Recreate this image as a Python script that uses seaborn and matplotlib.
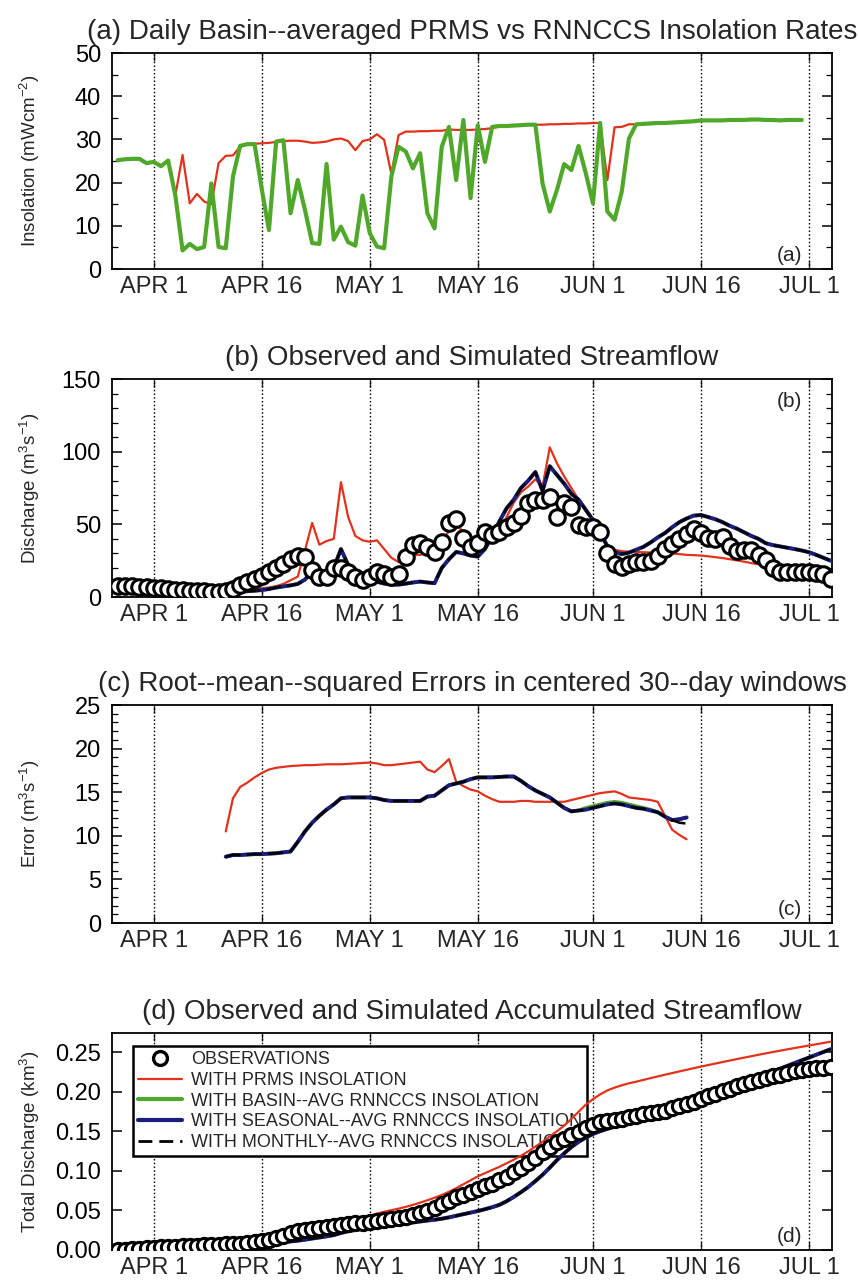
import numpy as np
import pandas as pd
import matplotlib
matplotlib.use("Agg")
import matplotlib.pyplot as plt
import seaborn as sns
from matplotlib.ticker import MultipleLocator, FormatStrFormatter
from matplotlib.lines import Line2D
from matplotlib.legend_handler import HandlerLine2D

# ---------------- data (days counted from APR 1) ----------------
tick_days = [0, 15, 30, 45, 61, 76, 91]
tick_labels = ["APR 1", "APR 16", "MAY 1", "MAY 16", "JUN 1", "JUN 16", "JUL 1"]

days_a = list(range(-5, 91))      # panel (a)
days_b = list(range(-5, 95))      # panels (b) and (d)
days_c = list(range(10, 75))      # panel (c)

# (a) insolation, mW cm-2
insol_basin = [25.2, 25.4, 25.5, 25.5, 24.5, 24.8, 23.8, 25.1, 17.0, 4.3,
               5.8, 4.6, 5.1, 19.8, 5.1, 4.8, 21.4, 28.5, 28.9, 28.9,
               18.5, 9.0, 29.5, 29.8, 12.9, 20.6, 13.7, 6.0, 5.8, 24.3,
               6.8, 9.8, 6.2, 5.4, 17.0, 8.3, 5.2, 4.8, 21.4, 28.3,
               27.2, 23.3, 26.8, 12.9, 9.4, 28.3, 32.9, 20.6, 34.5, 16.4,
               33.3, 24.8, 32.9, 33.1, 33.1, 33.2, 33.3, 33.4, 33.4, 19.8,
               13.3, 18.3, 24.3, 22.9, 28.5, 22.2, 15.2, 33.8, 13.3, 11.4,
               17.9, 30.2, 33.5, 33.6, 33.7, 33.8, 33.8, 33.9, 34.0, 34.1,
               34.2, 34.4, 34.4, 34.4, 34.4, 34.5, 34.5, 34.5, 34.6, 34.6,
               34.5, 34.5, 34.4, 34.5, 34.5, 34.5]
insol_prms = [25.2, 25.4, 25.5, 25.5, 24.5, 24.8, 23.8, 25.1, 17.0, 26.4,
              15.2, 17.4, 15.6, 15.0, 24.5, 26.2, 26.3, 28.3, 28.9, 29.0,
              29.1, 29.2, 29.4, 29.6, 29.7, 29.7, 29.5, 29.2, 29.3, 29.5,
              30.0, 30.2, 29.6, 27.5, 29.6, 30.0, 31.2, 29.9, 22.0, 31.0,
              31.8, 31.8, 31.9, 31.9, 32.0, 32.0, 32.3, 32.2, 32.2, 32.2,
              32.3, 32.4, 32.6, 33.0, 33.1, 33.2, 33.3, 33.4, 33.4, 33.4,
              33.5, 33.5, 33.6, 33.6, 33.7, 33.7, 33.8, 33.8, 20.6, 32.8,
              32.9, 33.5, 33.5, 33.6, 33.7, 33.8, 33.8, 33.9, 34.0, 34.1,
              34.2, 34.4, 34.4, 34.4, 34.4, 34.5, 34.5, 34.5, 34.6, 34.6,
              34.5, 34.5, 34.4, 34.5, 34.5, 34.5]

# (b) daily discharge, m3 s-1
q_obs = [7.5, 7.8, 7.5, 7.2, 7.0, 6.5, 6.0, 5.5, 5.0, 4.6,
         4.3, 4.0, 3.8, 3.6, 3.5, 4.0, 5.5, 8.0, 10.0, 12.5,
         14.5, 17.0, 20.0, 23.0, 26.0, 28.0, 27.5, 18.6, 14.0, 14.0,
         19.7, 20.0, 17.0, 14.0, 12.0, 13.5, 17.4, 15.5, 13.5, 15.5,
         27.8, 35.8, 36.9, 34.6, 31.2, 38.1, 50.7, 53.4, 40.4, 34.6,
         37.0, 45.0, 43.0, 45.0, 48.0, 51.0, 56.0, 65.0, 66.5, 67.0,
         69.0, 55.0, 64.5, 62.0, 49.5, 48.5, 48.0, 45.0, 30.0, 23.0,
         20.5, 23.0, 24.0, 24.3, 25.0, 28.0, 33.0, 36.5, 40.0, 43.5,
         47.0, 44.0, 40.5, 40.0, 41.0, 35.0, 31.5, 32.0, 32.0, 29.0,
         25.5, 20.0, 17.5, 17.3, 17.3, 17.3, 17.3, 16.5, 15.5, 12.7]
q_prms = [7.5, 7.4, 7.1, 6.7, 6.3, 5.9, 5.5, 5.1, 4.7, 4.4,
          4.1, 3.9, 3.7, 3.6, 3.5, 3.6, 3.8, 4.2, 4.8, 5.5,
          6.0, 6.5, 7.5, 9.0, 11.5, 14.0, 32.0, 51.0, 36.0, 38.5,
          40.0, 79.0, 55.0, 42.0, 39.0, 38.0, 39.0, 33.0, 27.0, 24.0,
          27.0, 29.0, 29.0, 31.0, 34.0, 40.0, 45.0, 49.5, 45.0, 40.0,
          38.0, 39.0, 42.0, 43.0, 55.0, 65.0, 72.0, 76.0, 81.0, 76.0,
          103.0, 92.0, 83.0, 75.0, 67.0, 59.0, 52.0, 42.0, 36.0, 32.5,
          31.5, 31.2, 31.0, 30.8, 30.6, 30.3, 30.0, 29.8, 29.5, 29.0,
          28.8, 28.5, 28.0, 27.4, 26.8, 26.0, 25.2, 24.3, 23.3, 22.5,
          21.5, 20.7, 20.2, 19.8, 19.6, 19.3, 18.5, 17.5, 16.2, 15.0]
q_rnnccs = [7.5, 7.5, 7.2, 6.8, 6.4, 6.0, 5.6, 5.2, 4.8, 4.5,
            4.2, 4.0, 3.8, 3.6, 3.5, 3.5, 3.6, 3.8, 4.0, 4.3,
            4.8, 5.5, 6.5, 7.3, 8.0, 9.0, 12.0, 17.5, 14.0, 16.5,
            20.0, 33.0, 22.0, 17.0, 13.5, 11.7, 10.5, 9.2, 8.5, 8.5,
            9.2, 10.0, 10.6, 10.0, 9.5, 20.0, 26.0, 31.0, 30.0, 28.5,
            27.8, 33.0, 42.0, 52.0, 61.0, 67.0, 75.0, 80.0, 86.0, 73.0,
            90.0, 84.0, 78.0, 71.0, 67.0, 60.0, 53.0, 44.0, 35.0, 31.0,
            29.5, 30.5, 32.5, 34.5, 37.5, 41.0, 44.0, 48.0, 51.5, 54.0,
            56.0, 56.4, 55.0, 53.5, 51.5, 49.0, 47.0, 44.5, 42.0, 40.0,
            37.0, 35.7, 34.8, 33.9, 33.0, 32.0, 30.8, 29.0, 27.0, 25.0]

# (c) RMSE in centered 30-day windows, m3 s-1
rmse_prms = [10.5, 14.3, 15.6, 16.1, 16.7, 17.2, 17.6, 17.8, 17.9, 18.0,
             18.05, 18.1, 18.1, 18.15, 18.2, 18.2, 18.2, 18.25, 18.3, 18.35,
             18.4, 18.3, 18.1, 18.1, 18.2, 18.3, 18.4, 18.5, 17.6, 17.3,
             18.0, 18.8, 16.2, 15.7, 15.3, 15.1, 14.6, 14.2, 13.9, 13.9,
             13.9, 14.0, 14.0, 13.9, 13.9, 13.9, 13.9, 13.9, 14.1, 14.3,
             14.5, 14.7, 14.9, 15.0, 15.1, 14.8, 14.4, 14.3, 14.2, 14.1,
             13.9, 12.3, 10.7, 10.1, 9.6]
rmse_basin = [7.6, 7.8, 7.8, 7.85, 7.9, 7.9, 7.95, 8.0, 8.1, 8.2,
              9.3, 10.5, 11.5, 12.3, 13.0, 13.6, 14.3, 14.4, 14.4, 14.4,
              14.4, 14.3, 14.1, 14.0, 14.0, 14.0, 14.0, 14.0, 14.5, 14.6,
              15.2, 15.8, 16.0, 16.2, 16.5, 16.7, 16.7, 16.7, 16.75, 16.8,
              16.8, 16.3, 15.7, 15.2, 14.8, 14.4, 13.8, 13.2, 12.8, 12.9,
              13.2, 13.4, 13.6, 13.8, 13.9, 13.8, 13.6, 13.4, 13.2, 13.0,
              12.7, 12.2, 11.8, 11.9, 12.1]
rmse_seasonal = [7.6, 7.8, 7.8, 7.85, 7.9, 7.9, 7.95, 8.0, 8.1, 8.2,
                 9.3, 10.5, 11.5, 12.3, 13.0, 13.6, 14.3, 14.4, 14.4, 14.4,
                 14.4, 14.3, 14.1, 14.0, 14.0, 14.0, 14.0, 14.0, 14.5, 14.6,
                 15.2, 15.8, 16.0, 16.2, 16.5, 16.7, 16.7, 16.7, 16.75, 16.8,
                 16.8, 16.3, 15.7, 15.2, 14.8, 14.4, 13.8, 13.2, 12.8, 12.9,
                 13.0, 13.2, 13.4, 13.6, 13.7, 13.6, 13.4, 13.2, 13.1, 12.9,
                 12.7, 12.2, 11.8, 11.9, 12.1]
rmse_monthly = [7.6, 7.8, 7.8, 7.85, 7.9, 7.9, 7.95, 8.0, 8.1, 8.2,
                9.3, 10.5, 11.5, 12.3, 13.0, 13.6, 14.3, 14.4, 14.4, 14.4,
                14.4, 14.3, 14.1, 14.0, 14.0, 14.0, 14.0, 14.0, 14.5, 14.6,
                15.2, 15.8, 16.0, 16.2, 16.5, 16.7, 16.7, 16.7, 16.75, 16.8,
                16.8, 16.3, 15.7, 15.2, 14.8, 14.4, 13.8, 13.2, 12.8, 12.9,
                13.0, 13.2, 13.4, 13.6, 13.7, 13.6, 13.4, 13.2, 13.1, 12.9,
                12.7, 12.2, 11.8, 11.5, 11.4]

# (d) accumulated discharge, km3
cum_obs = [0.0000, 0.0006, 0.0012, 0.0018, 0.0024, 0.0030, 0.0035, 0.0040, 0.0044, 0.0048,
           0.0052, 0.0056, 0.0060, 0.0063, 0.0066, 0.0070, 0.0075, 0.0081, 0.0089, 0.0098,
           0.0108, 0.0122, 0.0150, 0.0180, 0.0210, 0.0235, 0.0255, 0.0268, 0.0280, 0.0292,
           0.0305, 0.0318, 0.0328, 0.0337, 0.0346, 0.0355, 0.0366, 0.0376, 0.0386, 0.0400,
           0.0422, 0.0445, 0.0470, 0.0497, 0.0530, 0.0575, 0.0620, 0.0665, 0.0700, 0.0735,
           0.0770, 0.0805, 0.0838, 0.0878, 0.0922, 0.0980, 0.1040, 0.1095, 0.1160, 0.1240,
           0.1300, 0.1360, 0.1405, 0.1450, 0.1495, 0.1545, 0.1580, 0.1610, 0.1628, 0.1642,
           0.1657, 0.1675, 0.1695, 0.1715, 0.1730, 0.1745, 0.1760, 0.1790, 0.1818, 0.1845,
           0.1875, 0.1905, 0.1940, 0.1975, 0.2005, 0.2035, 0.2065, 0.2092, 0.2120, 0.2145,
           0.2170, 0.2192, 0.2215, 0.2237, 0.2255, 0.2270, 0.2282, 0.2292, 0.2300, 0.2310]
cum_prms = [0.0000, 0.0006, 0.0012, 0.0018, 0.0024, 0.0029, 0.0034, 0.0038, 0.0042, 0.0046,
            0.0049, 0.0052, 0.0055, 0.0058, 0.0061, 0.0064, 0.0067, 0.0070, 0.0074, 0.0078,
            0.0083, 0.0089, 0.0095, 0.0103, 0.0113, 0.0125, 0.0145, 0.0185, 0.0225, 0.0260,
            0.0290, 0.0330, 0.0360, 0.0385, 0.0410, 0.0435, 0.0460, 0.0483, 0.0503, 0.0522,
            0.0545, 0.0570, 0.0598, 0.0628, 0.0660, 0.0695, 0.0735, 0.0780, 0.0830, 0.0880,
            0.0930, 0.0970, 0.1010, 0.1050, 0.1095, 0.1140, 0.1190, 0.1245, 0.1305, 0.1365,
            0.1435, 0.1500, 0.1570, 0.1655, 0.1745, 0.1835, 0.1905, 0.1965, 0.2015, 0.2050,
            0.2080, 0.2105, 0.2125, 0.2148, 0.2170, 0.2192, 0.2213, 0.2234, 0.2255, 0.2275,
            0.2296, 0.2316, 0.2335, 0.2354, 0.2373, 0.2392, 0.2411, 0.2429, 0.2447, 0.2465,
            0.2483, 0.2500, 0.2517, 0.2534, 0.2550, 0.2566, 0.2582, 0.2598, 0.2614, 0.2630]
cum_rnnccs = [0.0000, 0.0006, 0.0012, 0.0018, 0.0024, 0.0029, 0.0034, 0.0038, 0.0042, 0.0046,
              0.0049, 0.0052, 0.0055, 0.0058, 0.0061, 0.0064, 0.0067, 0.0070, 0.0073, 0.0077,
              0.0081, 0.0086, 0.0092, 0.0100, 0.0108, 0.0118, 0.0130, 0.0145, 0.0158, 0.0172,
              0.0188, 0.0215, 0.0237, 0.0253, 0.0266, 0.0277, 0.0290, 0.0302, 0.0313, 0.0324,
              0.0336, 0.0348, 0.0360, 0.0372, 0.0382, 0.0395, 0.0412, 0.0432, 0.0452, 0.0472,
              0.0492, 0.0515, 0.0540, 0.0570, 0.0615, 0.0670, 0.0730, 0.0795, 0.0870, 0.0950,
              0.1040, 0.1135, 0.1220, 0.1300, 0.1365, 0.1420, 0.1465, 0.1500, 0.1530, 0.1556,
              0.1580, 0.1605, 0.1635, 0.1665, 0.1700, 0.1735, 0.1768, 0.1800, 0.1835, 0.1870,
              0.1905, 0.1940, 0.1977, 0.2014, 0.2050, 0.2082, 0.2112, 0.2142, 0.2165, 0.2195,
              0.2225, 0.2255, 0.2290, 0.2325, 0.2360, 0.2395, 0.2430, 0.2465, 0.2500, 0.2535]

# ---------------- styling ----------------
sns.set_style("white")
plt.rcParams["font.family"] = ["Liberation Sans", "DejaVu Sans"]
plt.rcParams["mathtext.fontset"] = "custom"
plt.rcParams["mathtext.rm"] = "Liberation Sans"
plt.rcParams["mathtext.it"] = "Liberation Sans:italic"
plt.rcParams["axes.unicode_minus"] = True

RED = "#e2321c"
GREEN = "#4fa82a"
BLUE = "#1e1c7c"
BLACK = "black"
DASH = (0, (6, 2.5))

fig = plt.figure(figsize=(8.58, 12.83), dpi=100)
W, H = 858.0, 1283.0
LEFT, RIGHT = 112, 832


def make_ax(top, bottom):
    return fig.add_axes([LEFT / W, 1 - bottom / H, (RIGHT - LEFT) / W, (bottom - top) / H])


def dress(ax, ymax, major, minor, fmt, ylabel, title, tag, tag_top=False):
    ax.set_xlim(-5.8, 94.2)
    ax.set_ylim(0, ymax)
    ax.set_xticks(tick_days)
    ax.set_xticklabels(tick_labels)
    for d in tick_days:
        ax.axvline(d, color="black", lw=1.0, ls=(0, (1.1, 1.6)), zorder=1)
    ax.yaxis.set_major_locator(MultipleLocator(major))
    if minor:
        ax.yaxis.set_minor_locator(MultipleLocator(minor))
    ax.yaxis.set_major_formatter(FormatStrFormatter(fmt))
    ax.tick_params(axis="y", which="both", direction="in", left=True, right=True,
                   labelsize=17, colors="black")
    ax.tick_params(axis="y", which="major", length=7, width=1.1, pad=8)
    ax.tick_params(axis="y", which="minor", length=4, width=0.9)
    ax.tick_params(axis="x", direction="in", top=True, bottom=True, length=6,
                   width=1.0, labelsize=17, pad=5)
    for s in ax.spines.values():
        s.set_linewidth(1.3)
        s.set_color("black")
    ax.set_xlabel("")
    ax.set_ylabel(ylabel, fontsize=13.5)
    ax.yaxis.set_label_coords(-0.097, 0.5)
    ax.set_title(title, fontsize=20, pad=10)
    if tag_top:
        ax.text(0.958, 0.94, tag, transform=ax.transAxes, ha="right", va="top", fontsize=15)
    else:
        ax.text(0.958, 0.02, tag, transform=ax.transAxes, ha="right", va="bottom", fontsize=15)


df_a = pd.DataFrame({"day": days_a, "prms": insol_prms, "basin": insol_basin})
df_b = pd.DataFrame({"day": days_b, "obs": q_obs, "prms": q_prms, "rnnccs": q_rnnccs})
df_c = pd.DataFrame({"day": days_c, "prms": rmse_prms, "basin": rmse_basin,
                     "seasonal": rmse_seasonal, "monthly": rmse_monthly})
df_d = pd.DataFrame({"day": days_b, "obs": cum_obs, "prms": cum_prms, "rnnccs": cum_rnnccs})

# (a)
ax = make_ax(53, 269)
sns.lineplot(data=df_a, x="day", y="prms", ax=ax, color=RED, lw=1.6, zorder=3)
sns.lineplot(data=df_a, x="day", y="basin", ax=ax, color=GREEN, lw=3.0, zorder=4)
dress(ax, 50, 10, 5, "%d", "Insolation (mWcm$^{-2}$)",
      "(a) Daily Basin--averaged PRMS vs RNNCCS Insolation Rates", "(a)")

# (b)
ax = make_ax(379, 597)
sns.lineplot(data=df_b, x="day", y="prms", ax=ax, color=RED, lw=1.6, zorder=3)
sns.lineplot(data=df_b, x="day", y="rnnccs", ax=ax, color=GREEN, lw=2.6, zorder=3.5)
sns.lineplot(data=df_b, x="day", y="rnnccs", ax=ax, color=BLUE, lw=2.8, zorder=4)
sns.lineplot(data=df_b, x="day", y="rnnccs", ax=ax, color=BLACK, lw=1.8, ls=DASH, zorder=4.5)
sns.scatterplot(data=df_b, x="day", y="obs", ax=ax, s=125, marker="o", color="white",
                edgecolor="black", linewidth=2.2, zorder=6)
dress(ax, 150, 50, 10, "%d", "Discharge (m$^{3}$s$^{-1}$)",
      "(b) Observed and Simulated Streamflow", "(b)", tag_top=True)

# (c)
ax = make_ax(705, 923)
sns.lineplot(data=df_c, x="day", y="prms", ax=ax, color=RED, lw=1.6, zorder=3)
sns.lineplot(data=df_c, x="day", y="basin", ax=ax, color=GREEN, lw=2.6, zorder=3.5)
sns.lineplot(data=df_c, x="day", y="seasonal", ax=ax, color=BLUE, lw=2.8, zorder=4)
sns.lineplot(data=df_c, x="day", y="monthly", ax=ax, color=BLACK, lw=1.8, ls=DASH, zorder=4.5)
dress(ax, 25, 5, 1, "%d", "Error (m$^{3}$s$^{-1}$)",
      "(c) Root--mean--squared Errors in centered 30--day windows", "(c)")

# (d)
ax = make_ax(1033, 1250)
sns.lineplot(data=df_d, x="day", y="prms", ax=ax, color=RED, lw=1.6, zorder=4)
sns.lineplot(data=df_d, x="day", y="rnnccs", ax=ax, color=GREEN, lw=2.6, zorder=4.2)
sns.lineplot(data=df_d, x="day", y="rnnccs", ax=ax, color=BLUE, lw=2.8, zorder=4.4)
sns.lineplot(data=df_d, x="day", y="rnnccs", ax=ax, color=BLACK, lw=1.8, ls=DASH, zorder=4.6)
sns.scatterplot(data=df_d, x="day", y="obs", ax=ax, s=105, marker="o", color="white",
                edgecolor="black", linewidth=2.2, zorder=6)
dress(ax, 0.274, 0.05, None, "%.2f", "Total Discharge (km$^{3}$)",
      "(d) Observed and Simulated Accumulated Streamflow", "(d)")


class RightMarker(HandlerLine2D):
    def get_xdata(self, legend, xdescent, ydescent, width, height, fontsize):
        xdata = np.array([-xdescent, -xdescent + width], float)
        return xdata, np.array([-xdescent + width - 0.35 * fontsize])


obs_h = Line2D([], [], ls="none", marker="o", ms=10, mfc="white", mec="black", mew=2.4)
handles = [obs_h,
           Line2D([], [], color=RED, lw=1.6),
           Line2D([], [], color=GREEN, lw=3.0),
           Line2D([], [], color=BLUE, lw=3.0),
           Line2D([], [], color=BLACK, lw=2.0, ls=(0, (5, 2.5)))]
labels = ["OBSERVATIONS", "WITH PRMS INSOLATION", "WITH BASIN--AVG RNNCCS INSOLATION",
          "WITH SEASONAL--AVG RNNCCS INSOLATION", "WITH MONTHLY--AVG RNNCCS INSOLATION"]
leg = ax.legend(handles, labels, loc="upper left", bbox_to_anchor=(0.029, 0.94),
                borderaxespad=0, frameon=True, fancybox=False, edgecolor="black",
                framealpha=1, fontsize=13, handlelength=2.4, handletextpad=0.5,
                labelspacing=0.2, borderpad=0.3,
                handler_map={obs_h: RightMarker()})
leg.get_frame().set_linewidth(1.8)
leg.set_zorder(3)

fig.savefig("out.png", dpi=100)
